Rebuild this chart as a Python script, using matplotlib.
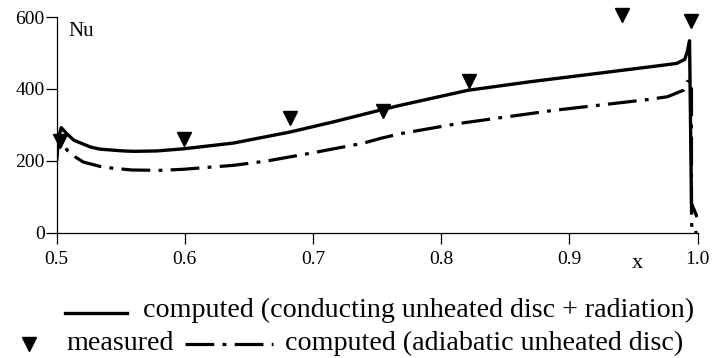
import matplotlib.pyplot as plt
from matplotlib.lines import Line2D

plt.rcParams['font.family'] = ['Liberation Serif', 'DejaVu Serif']

# computed, conducting unheated disc + radiation
x_cond = [0.5, 0.5015, 0.5037, 0.508, 0.5135, 0.5265, 0.534, 0.5525, 0.56, 0.578,
          0.599, 0.638, 0.6825, 0.716, 0.755, 0.768, 0.821, 0.870, 0.922, 0.9735,
          0.984, 0.990, 0.992, 0.9938, 0.9953, 0.997, 0.9992]
nu_cond = [200, 262, 292, 275, 257, 238, 232, 227, 226, 227,
           233, 249, 280, 308, 343, 354, 396, 420, 443, 466,
           471, 482, 503, 534, 80, 66, 47]

# computed, adiabatic unheated disc
x_adia = [0.5, 0.502, 0.5083, 0.5148, 0.521, 0.534, 0.5437, 0.559, 0.581, 0.599,
          0.638, 0.664, 0.7, 0.7397, 0.7527, 0.768, 0.8128, 0.8877, 0.961, 0.9766,
          0.989, 0.992, 0.9953, 0.9953, 0.9955, 0.9955, 1.0]
nu_adia = [200, 266, 229, 210, 196, 184, 179, 174, 173, 176,
           187, 199, 222, 249, 262, 275, 303, 340, 370, 378,
           396, 420, 424, 57, 40, 0, 0]

# measured
x_meas = [0.503, 0.5998, 0.6818, 0.755, 0.8214, 0.941, 0.9947]
nu_meas = [255, 261, 320, 338, 422, 605, 590]

fig = plt.figure(figsize=(7.27, 3.58), dpi=100)
ax = fig.add_axes([56.5 / 727, 1 - 232.5 / 358, 641 / 727, 215.5 / 358])

ax.plot(x_cond, nu_cond, color='black', lw=2.4, solid_joinstyle='round')
ax.plot(x_adia, nu_adia, color='black', lw=2.3, dashes=[9, 2.6, 1.2, 2.6])
ax.plot(x_meas, nu_meas, linestyle='none', marker='v', color='black',
        markersize=9.5, clip_on=False)

ax.set_xlim(0.5, 1.0)
ax.set_ylim(0, 600)
ax.set_xticks([0.5, 0.6, 0.7, 0.8, 0.9, 1.0])
ax.set_xticklabels(['0.5', '0.6', '0.7', '0.8', '0.9', '1.0'])
ax.set_yticks([0, 200, 400, 600])
for s in ['top', 'right']:
    ax.spines[s].set_visible(False)
for s in ['left', 'bottom']:
    ax.spines[s].set_linewidth(0.9)
ax.tick_params(direction='out', length=8, width=0.9, labelsize=14)
ax.tick_params(axis='x', pad=5)
ax.tick_params(axis='y', pad=0.5)

ax.text(0.5094, 561, 'Nu', fontsize=15, va='center')
fig.text(637 / 727, 1 - 268 / 358, 'x', fontsize=16, ha='center', va='baseline')

# legend drawn underneath the axes
fs = 20.2
fig.add_artist(Line2D([65 / 727, 127 / 727], [1 - 313 / 358] * 2, color='black', lw=2.4))
fig.text(143 / 727, 1 - 317 / 358, 'computed (conducting unheated disc + radiation)',
         fontsize=fs, va='baseline')
fig.add_artist(Line2D([29 / 727], [1 - 344 / 358], marker='v', color='black',
                      markersize=9.5, linestyle='none'))
fig.text(66 / 727, 1 - 350 / 358, 'measured', fontsize=fs, va='baseline')
fig.add_artist(Line2D([185 / 727, 273 / 727], [1 - 344 / 358] * 2, color='black',
                      lw=2.3, dashes=[9, 2.6, 1.2, 2.6]))
fig.text(285 / 727, 1 - 350 / 358, 'computed (adiabatic unheated disc)',
         fontsize=fs, va='baseline')

fig.savefig('out.png', dpi=100)
